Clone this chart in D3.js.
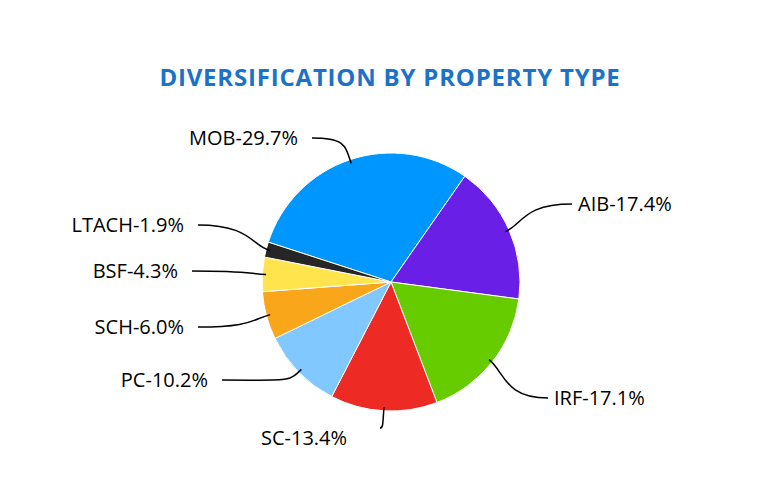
<!DOCTYPE html>
<html>
<head>
<meta charset="utf-8">
<script src="https://cdn.jsdelivr.net/npm/d3@7"></script>
<style>
body { margin: 0; background: #fff; }
text { font-family: "Open Sans", "Liberation Sans", sans-serif; }
</style>
</head>
<body>
<svg id="chart" width="780" height="492"></svg>
<script>
// slices in clockwise order, starting with MOB
const categories = ["MOB", "AIB", "IRF", "SC", "PC", "SCH", "BSF", "LTACH"];
const shares = [29.7, 17.4, 17.1, 13.4, 10.2, 6.0, 4.3, 1.9];
const colors = ["#0096ff", "#6a1fe6", "#66cc00", "#ee2a24", "#80c8ff", "#f9a61a", "#ffe44d", "#262626"];

// where each label's leader line ends (text sits beyond it)
const labelEnds = [[312, 138], [572, 204], [548, 398], [380, 428], [222, 380], [198, 327], [192, 271], [198, 225]];
const labelSide = ["end", "start", "start", "end", "end", "end", "end", "end"];

const svg = d3.select("#chart");
const cx = 391, cy = 282, r = 129;

svg.append("text")
  .attr("x", 390).attr("y", 86)
  .attr("text-anchor", "middle")
  .attr("fill", "#1a73c8")
  .attr("font-weight", "bold")
  .attr("font-size", 24)
  .attr("letter-spacing", 0.8)
  .text("DIVERSIFICATION BY PROPERTY TYPE");

const start = -72 * Math.PI / 180;
const pie = d3.pie().sort(null).value(d => d).startAngle(start).endAngle(start + 2 * Math.PI);
const arcs = pie(shares);
const arc = d3.arc().innerRadius(0).outerRadius(r);

const g = svg.append("g").attr("transform", `translate(${cx},${cy})`);
g.selectAll("path.slice").data(arcs).join("path")
  .attr("class", "slice")
  .attr("d", arc)
  .attr("fill", (d, i) => colors[i])
  .attr("stroke", "#fff")
  .attr("stroke-width", 1);

// leader lines
arcs.forEach((d, i) => {
  const a = (d.startAngle + d.endAngle) / 2;
  const p0 = [cx + Math.sin(a) * r * 0.97, cy - Math.cos(a) * r * 0.97];
  const p1 = [cx + Math.sin(a) * r * 1.12, cy - Math.cos(a) * r * 1.12];
  const end = labelEnds[i];
  const path = d3.path();
  path.moveTo(p0[0], p0[1]);
  path.bezierCurveTo(p1[0], p1[1], p1[0], end[1], end[0], end[1]);
  svg.append("path").attr("d", path.toString())
    .attr("fill", "none").attr("stroke", "#000").attr("stroke-width", 1.5);

  const sideStart = labelSide[i] === "start";
  let tx = end[0] + (sideStart ? 6 : -14), ty = end[1] + 7;
  if (categories[i] === "SC") { tx = end[0] - 76; ty = end[1] + 17; }
  svg.append("text")
    .attr("x", tx).attr("y", ty)
    .attr("text-anchor", categories[i] === "SC" ? "middle" : labelSide[i])
    .attr("font-size", 20)
    .attr("fill", "#000")
    .text(`${categories[i]}-${shares[i].toFixed(1)}%`);
});
</script>
</body>
</html>
